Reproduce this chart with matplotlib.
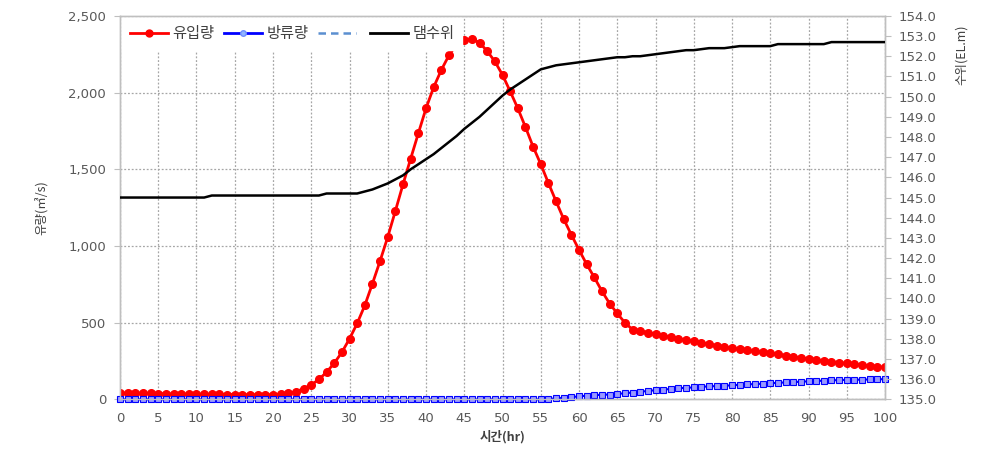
import matplotlib
matplotlib.use("Agg")
import matplotlib.pyplot as plt
from matplotlib.lines import Line2D
from matplotlib.ticker import FuncFormatter, MultipleLocator

plt.rcParams['font.family'] = ['Noto Sans CJK KR', 'DejaVu Sans']

hours = list(range(0, 101))

inflow = [42, 42, 41, 41, 39, 38, 37, 36, 36, 35,
          35, 34, 33, 33, 32, 32, 31, 31, 31, 30,
          31, 33, 40, 50, 70, 95, 130, 178, 236, 307,
          395, 495, 613, 755, 903, 1059, 1229, 1403, 1570, 1735,
          1897, 2035, 2147, 2243, 2315, 2343, 2350, 2325, 2270, 2203,
          2115, 2008, 1897, 1775, 1647, 1533, 1410, 1291, 1175, 1073,
          975, 881, 795, 705, 625, 560, 500, 455, 446, 436,
          425, 415, 405, 396, 388, 380, 370, 360, 351, 342,
          333, 327, 320, 314, 307, 301, 294, 286, 279, 271,
          264, 258, 252, 246, 240, 235, 229, 224, 219, 214,
          209]

outflow = [0] * 56 + [3, 6, 10, 15, 20, 24, 28, 30, 32, 36,
                      40, 45, 50, 55, 60, 64, 68, 72, 76, 78,
                      82, 85, 87, 89, 92, 95, 98, 100, 102, 105,
                      108, 111, 113, 115, 118, 120, 122, 124, 126, 127,
                      128, 129, 130, 131, 132]

level = ([145.0] * 12 + [145.1] * 15 + [145.2] * 5 +
         [145.3, 145.4, 145.55, 145.7, 145.9, 146.1, 146.4, 146.65, 146.9, 147.15,
          147.45, 147.75, 148.05, 148.4, 148.7, 149.0, 149.35, 149.7, 150.05, 150.35,
          150.6, 150.85, 151.1, 151.35, 151.45, 151.55, 151.6, 151.65, 151.7, 151.75,
          151.8, 151.85, 151.9, 151.95, 151.95, 152.0, 152.0, 152.05, 152.1, 152.15,
          152.2, 152.25, 152.3, 152.3, 152.35, 152.4, 152.4, 152.4, 152.45] +
         [152.5] * 5 + [152.6] * 7 + [152.7] * 8)

legend_labels = ['유입량', '방류량', '', '댐수위']
x_ticks = list(range(0, 101, 5))

fig = plt.figure(figsize=(9.86, 4.53), dpi=100)
ax = fig.add_axes([0.1217, 0.1183, 0.7759, 0.8467])
ax2 = ax.twinx()

spine_c = '#bfbfbf'
text_c = '#595959'

ax.plot(hours, inflow, color='#ff0000', lw=2, marker='o', ms=5.5,
        mfc='#ff0000', mec='#ff0000', zorder=3)
ax.plot(hours, outflow, color='#0000ff', lw=1.5, marker='s', ms=3.8,
        mfc='#9999ff', mec='#0000ff', mew=0.8, zorder=3, clip_on=False)
ax2.plot(hours, level, color='black', lw=1.8, zorder=3)

ax.set_xlim(0, 100)
ax.set_ylim(0, 2500)
ax2.set_ylim(135, 154)
ax.set_xticks(x_ticks)
ax.yaxis.set_major_locator(MultipleLocator(500))
ax2.yaxis.set_major_locator(MultipleLocator(1))
ax.yaxis.set_major_formatter(FuncFormatter(lambda v, p: f'{v:,.0f}'))
ax2.yaxis.set_major_formatter(FuncFormatter(lambda v, p: f'{v:.1f}'))

ax.grid(True, color='#a6a6a6', linestyle=(0, (1.5, 1.5)), lw=0.9)
ax.set_axisbelow(True)

for a in (ax, ax2):
    for s in a.spines.values():
        s.set_color(spine_c)
        s.set_linewidth(1.0)

ax.tick_params(axis='x', length=0, pad=9, labelsize=9.5, labelcolor=text_c)
ax.tick_params(axis='y', length=4, pad=6, color=spine_c, labelsize=9.5, labelcolor=text_c)
ax2.tick_params(axis='y', length=4, pad=6, color=spine_c, labelsize=9.5, labelcolor=text_c)
for lab in ax.get_xticklabels() + ax.get_yticklabels() + ax2.get_yticklabels():
    lab.set_family('DejaVu Sans')

ax.set_xlabel('시간(hr)', fontsize=9, fontweight='bold', color='#404040', labelpad=4)
ax.set_ylabel('유량(㎥/s)', fontsize=9, color='#404040', labelpad=14)
fig.text(0.975, 0.88, '수위(EL.m)', rotation=90, fontsize=9, color='#404040',
         ha='center', va='center')

handles = [
    Line2D([], [], color='#ff0000', lw=2, marker='o', ms=5),
    Line2D([], [], color='#0000ff', lw=2, marker='o', ms=4, mfc='#8fb4ff', mec='#6f8fff'),
    Line2D([], [], color='#5b8fd0', lw=1.8, linestyle=(0, (3, 2))),
    Line2D([], [], color='black', lw=2),
]
leg = ax2.legend(handles, legend_labels, loc='upper left', bbox_to_anchor=(0.003, 0.995),
                 ncol=4, fontsize=11, frameon=True, facecolor='white', edgecolor='white',
                 framealpha=1, fancybox=False, handlelength=2.5, handletextpad=0.3,
                 columnspacing=0.6, borderpad=0.5, borderaxespad=0.0)
leg.set_zorder(10)
for t in leg.get_texts():
    t.set_color('#404040')

fig.savefig('out.png', dpi=100)
